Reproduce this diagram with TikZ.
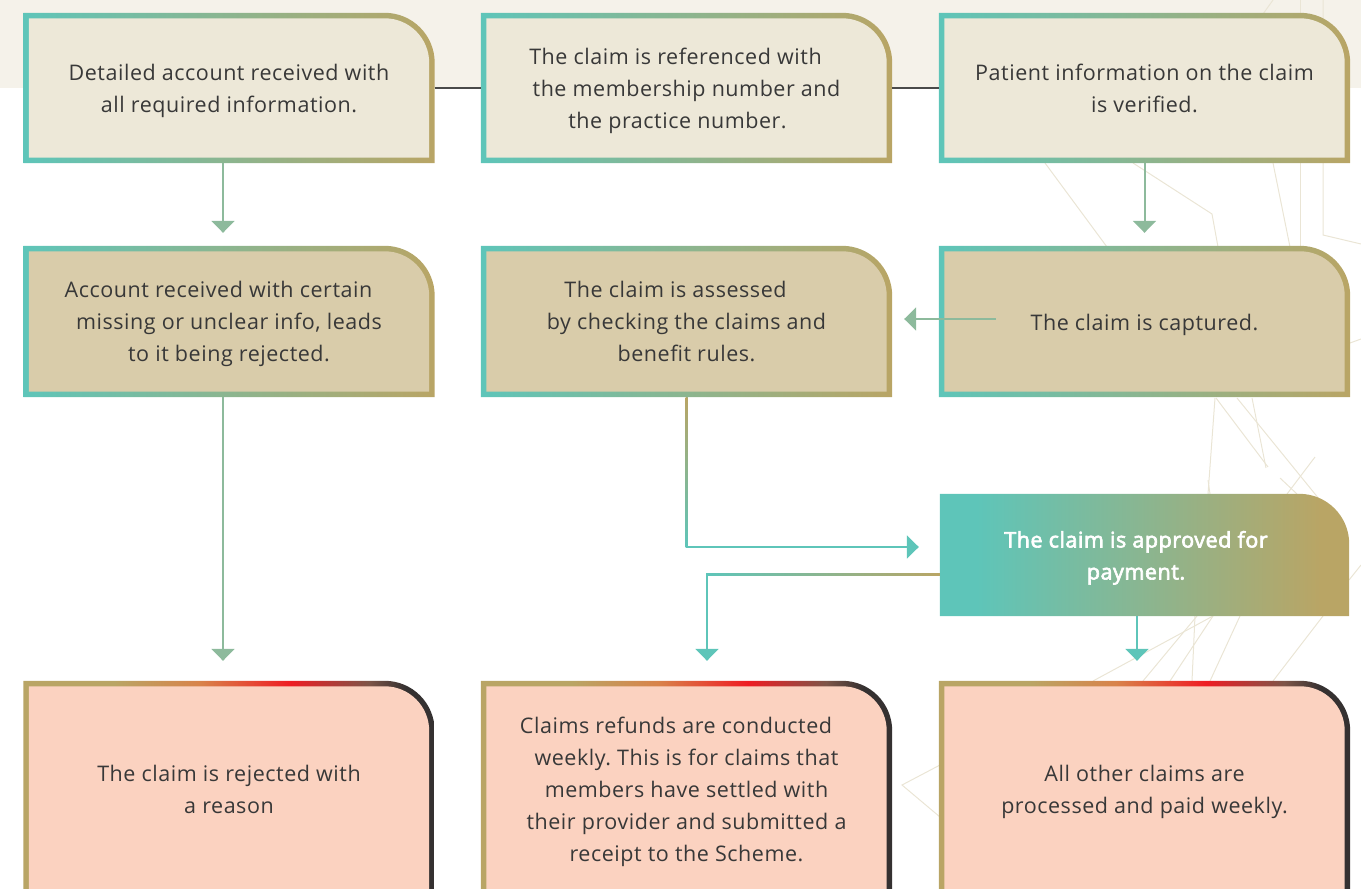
\documentclass[tikz,border=0pt]{standalone}
\usepackage{fontspec}
\setmainfont{Open Sans}[LetterSpace=2.5]
\frenchspacing
\usetikzlibrary{arrows.meta,calc,backgrounds}
\definecolor{tealc}{HTML}{5EC5B9}
\definecolor{goldc}{HTML}{B9A565}
\definecolor{fillA}{HTML}{EDE8D8}
\definecolor{fillB}{HTML}{D9CCAA}
\definecolor{fillC}{HTML}{FBD2C0}
\definecolor{bandc}{HTML}{F5F2EA}
\definecolor{txt}{HTML}{383838}
\definecolor{deco}{HTML}{EAE5D5}
\definecolor{mixc}{HTML}{8DBA9C}
\definecolor{orangec}{HTML}{D8834A}
\definecolor{redc}{HTML}{EE1D24}
\definecolor{brownc}{HTML}{7D5548}
\definecolor{darkc}{HTML}{353131}
\definecolor{linec}{HTML}{4A4A4A}
\pgfdeclarehorizontalshading{warmedge}{100bp}{color(0bp)=(goldc); color(25bp)=(goldc); color(36bp)=(goldc); color(46.5bp)=(orangec); color(57.5bp)=(redc); color(67bp)=(brownc); color(71.5bp)=(darkc); color(75bp)=(darkc); color(100bp)=(darkc)}
\pgfdeclarehorizontalshading{coolfill}{100bp}{color(0bp)=(tealc); color(25bp)=(tealc); color(29.5bp)=(tealc); color(71.5bp)=(goldc); color(75bp)=(goldc); color(100bp)=(goldc)}
\newcommand\trail[1]{\hbox to #1{}}
\newcommand\topstrut{\rule{0pt}{26.5pt}}
\newcommand\botstrut{\rule[-9.6pt]{0pt}{9.6pt}}
\newcommand\onestrut{\rule[-9.6pt]{0pt}{38pt}}
\newcommand\drawtab[5]{%
  \pgfmathsetmacro\tabk{0.5523*#5}%
  \pgfmathsetmacro\tabki{0.5523*(#5-#4)}%
  \pgfmathsetmacro\tabR{#5}%
  \path[#2] (#1.south west) -- (#1.north west) -- ([xshift=-\tabR pt]#1.north east)
     .. controls ([xshift={-\tabR pt+\tabk pt}]#1.north east) and ([yshift={-\tabR pt+\tabk pt}]#1.north east) .. ([yshift=-\tabR pt]#1.north east) -- (#1.south east) -- cycle;
  \path[fill=#3] ([xshift=#4pt,yshift=#4pt]#1.south west) -- ([xshift=#4pt,yshift=-#4pt]#1.north west) -- ([xshift=-\tabR pt,yshift=-#4pt]#1.north east)
     .. controls ([xshift={-\tabR pt+\tabki pt},yshift=-#4pt]#1.north east) and ([xshift=-#4pt,yshift={-\tabR pt+\tabki pt}]#1.north east) .. ([xshift=-#4pt,yshift=-\tabR pt]#1.north east) -- ([xshift=-#4pt,yshift=#4pt]#1.south east) -- cycle;
}
\tikzset{
  boxbase/.style={text=txt, align=center, inner sep=0pt, font=\fontsize{21.5}{32}\selectfont},
  boxtext/.style={boxbase, execute at end node=\botstrut},
  rowA/.style={minimum width=411pt, minimum height=150pt},
  rowB/.style={minimum width=411pt, minimum height=151pt},
  rowC/.style={minimum width=411pt, minimum height=216pt},
  conn/.style={line width=2pt, -{Triangle[width=23pt,length=12pt]}},
  plain/.style={line width=1.5pt, linec},
  decoline/.style={deco, line width=1pt},
}
\begin{document}
\begin{tikzpicture}[x=1pt,y=-1pt]
\useasboundingbox (0,0) rectangle (1361,889);
% text nodes
\node[boxtext, rowA] (b1) at (229,88) {\topstrut Detailed account received with\\all required information.};
\node[boxtext, rowA] (b2) at (686.5,88) {\topstrut The claim is referenced with\trail{22pt}\\the membership number and\\the practice number.\trail{18pt}};
\node[boxtext, rowA] (b3) at (1144.5,88) {\topstrut Patient information on the claim\\is verified.};
\node[boxtext, rowB] (b4) at (229,321.5) {\topstrut Account received with certain\trail{21pt}\\missing or unclear info, leads\\to it being rejected.};
\node[boxtext, rowB] (b5) at (686.5,321.5) {\topstrut The claim is assessed\trail{22pt}\\by checking the claims and\\benefit rules.};
\node[boxbase, rowB] (b6) at (1144.5,321.5) {\onestrut The claim is captured.};
\node[boxtext, minimum width=409pt, minimum height=122pt, text=white, font=\fontsize{21.5}{32}\selectfont\addfontfeatures{FakeBold=3}] (ap) at (1144.5,555) {\topstrut The claim is approved for\trail{17pt}\\payment.\trail{17pt}};
\node[boxtext, rowC] (b7) at (229,789) {\topstrut The claim is rejected with\\a reason};
\node[boxtext, rowC] (b8) at (686.5,789) {\topstrut Claims refunds are conducted\trail{21pt}\\weekly. This is for claims that\\members have settled with\\their provider and submitted a\\receipt to the Scheme.};
\node[boxtext, rowC] (b9) at (1144.5,789) {\topstrut All other claims are\\processed and paid weekly.};
% backgrounds
\begin{pgfonlayer}{background}
\fill[bandc] (0,0) rectangle (1361,88);
\draw[decoline] (1045,163) -- (1107,247);
\draw[decoline] (1133,163) -- (1212,214) -- (1218,247);
\draw[decoline] (1273,163) -- (1290,247);
\draw[decoline] (1300,0) -- (1300,247);
\draw[decoline] (1323,0) -- (1323,235) -- (1361,244);
\draw[decoline] (1263,14) -- (1273,0);
\draw[decoline] (1215,398) -- (1208,494);
\draw[decoline] (1216,398) -- (1268,467);
\draw[decoline] (1237,398) -- (1328,510);
\draw[decoline] (1252,398) -- (1266,468);
\draw[decoline] (1315,457) -- (1287,494);
\draw[decoline] (1350,343) -- (1361,339);
\draw[decoline] (1093,681) -- (1213,616);
\draw[decoline] (1143,681) -- (1197,616);
\draw[decoline] (1170,681) -- (1213,616);
\draw[decoline] (1192,681) -- (1195,616);
\draw[decoline] (1210,681) -- (1240,616);
\draw[decoline] (1273,681) -- (1323,616);
\draw[decoline] (1208,480) -- (1210,494);
\draw[decoline] (1280,478) -- (1297,494);
\draw[decoline] (1349,580) -- (1361,565);
\draw[decoline] (940,765) -- (902,785) -- (940,817);
\drawtab{b1}{left color=tealc,right color=goldc}{fillA}{5.5}{50}
\drawtab{b2}{left color=tealc,right color=goldc}{fillA}{5.5}{50}
\drawtab{b3}{left color=tealc,right color=goldc}{fillA}{5.5}{50}
\drawtab{b4}{left color=tealc,right color=goldc}{fillB}{5.5}{50}
\drawtab{b5}{left color=tealc,right color=goldc}{fillB}{5.5}{50}
\drawtab{b6}{left color=tealc,right color=goldc}{fillB}{5.5}{50}
\drawtab{ap}{shading=coolfill}{none}{0}{50}
\drawtab{b7}{shading=warmedge}{fillC}{5.5}{50}
\drawtab{b8}{shading=warmedge}{fillC}{5.5}{50}
\drawtab{b9}{shading=warmedge}{fillC}{5.5}{50}
\end{pgfonlayer}
% connectors
\draw[plain] (b1.east) -- (b2.west);
\draw[plain] (b2.east) -- (b3.west);
\draw[conn, mixc, shorten >=13pt] ([xshift=-6pt]b1.south) -- ([xshift=-6pt]b4.north);
\draw[conn, mixc, shorten >=13pt] (b3.south) -- (b6.north);
\coordinate (c6) at ([xshift=57pt,yshift=2.5pt]b6.west);
\draw[conn, mixc, shorten >=12pt] (c6) -- (c6 -| b5.east);
\draw[conn, mixc, shorten >=20pt] ([xshift=-6pt]b4.south) -- ([xshift=-6pt]b7.north);
\draw[conn, tealc, shorten >=21pt] (b5.south) |- ([yshift=8pt]ap.west);
\path[top color=goldc, bottom color=tealc] ([xshift=-1pt]b5.south) rectangle ($([xshift=1pt]b5.south |- ap.west)+(0,-8)$);
\draw[conn, tealc, shorten >=20pt] ([yshift=-19pt]ap.west) -| ([xshift=20.5pt]b8.north);
\path[left color=tealc, right color=goldc] ($(b8.north |- ap.west)+(20.5,18)$) rectangle ($(ap.west)+(0,20)$);
\draw[conn, tealc, shorten >=20pt] ([xshift=-7.5pt]ap.south) -- ([xshift=-7.5pt]b9.north);
\end{tikzpicture}
\end{document}
